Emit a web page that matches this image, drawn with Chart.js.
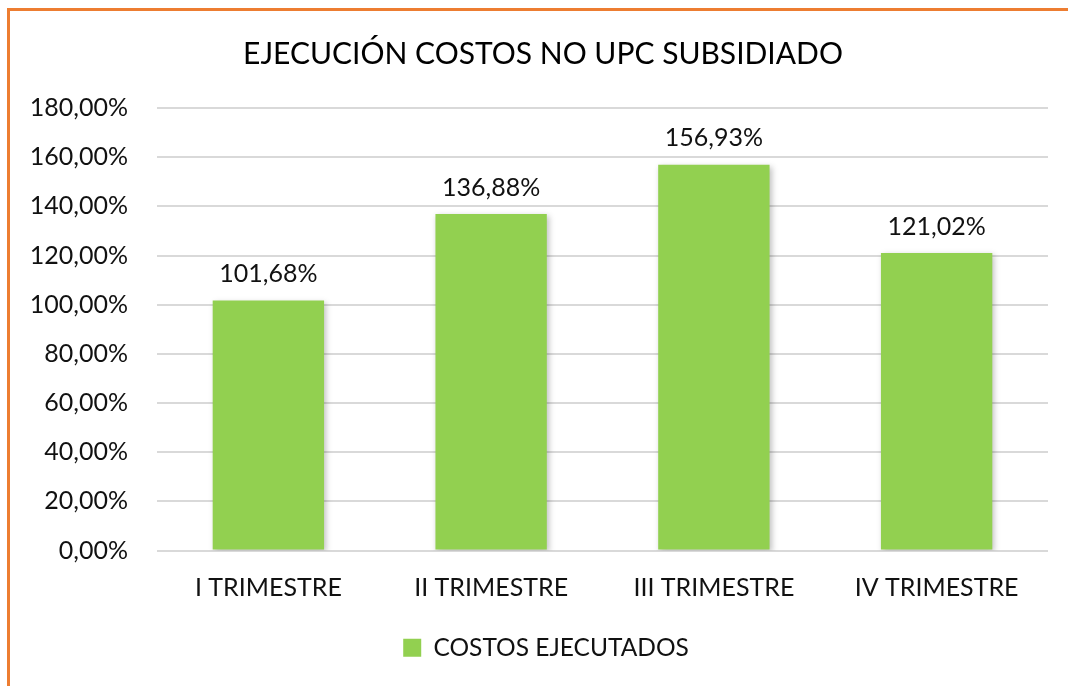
<!DOCTYPE html>
<html>
<head>
<meta charset="utf-8">
<script src="https://cdn.jsdelivr.net/npm/chart.js@4"></script>
<style>
    html, body { margin: 0; padding: 0; background: #fff; }
    #frame {
        position: absolute;
        left: 7px;
        top: 8px;
        width: 1070px;
        height: 690px;
        border-top: 3px solid #ed7d31;
        border-left: 3px solid #ed7d31;
    }
    #wrap { position: absolute; left: 0; top: 0; width: 1068px; height: 686px; }
</style>
</head>
<body>
<div id="frame"></div>
<div id="wrap"><canvas id="myChart"></canvas></div>
<script>
const categories = ["I TRIMESTRE", "II TRIMESTRE", "III TRIMESTRE", "IV TRIMESTRE"];
const costosEjecutados = [101.68, 136.88, 156.93, 121.02];
const yTicks = [0, 20, 40, 60, 80, 100, 120, 140, 160, 180];

const fontFamily = "Lato, 'Open Sans', sans-serif";

function pct(v) {
    return v.toFixed(2).replace(".", ",") + "%";
}

// soft shadow under the bars, like the office chart
const barShadow = {
    id: "barShadow",
    beforeDatasetsDraw(chart) {
        const ctx = chart.ctx;
        ctx.save();
        ctx.shadowColor = "rgba(0,0,0,0.25)";
        ctx.shadowBlur = 6;
        ctx.shadowOffsetX = 2;
        ctx.shadowOffsetY = 2;
    },
    afterDatasetsDraw(chart) {
        chart.ctx.restore();
    }
};

// value labels over each bar
const valueLabels = {
    id: "valueLabels",
    afterDatasetsDraw(chart) {
        const ctx = chart.ctx;
        const meta = chart.getDatasetMeta(0);
        ctx.save();
        ctx.font = "25px " + fontFamily;
        ctx.fillStyle = "#111";
        ctx.textAlign = "center";
        ctx.textBaseline = "bottom";
        meta.data.forEach((bar, i) => {
            ctx.fillText(pct(costosEjecutados[i]), bar.x, bar.y - 14);
        });
        ctx.restore();
    }
};

// title and legend sit a bit right of the canvas centre in the original
const nudgeBoxes = {
    id: "nudgeBoxes",
    afterLayout(chart) {
        if (chart.titleBlock) {
            chart.titleBlock.left += 19;
            chart.titleBlock.right += 19;
        }
        if (chart.legend) {
            chart.legend.left += 22;
            chart.legend.right += 22;
        }
    }
};

const Mychart = document.getElementById("myChart");

new Chart(Mychart, {
    type: "bar",
    data: {
        labels: categories,
        datasets: [
            {
                label: "COSTOS EJECUTADOS",
                data: costosEjecutados,
                backgroundColor: "#92d050",
                categoryPercentage: 1.0,
                barPercentage: 0.5,
            },
        ],
    },
    options: {
        responsive: true,
        maintainAspectRatio: false,
        animation: false,
        layout: {
            padding: { left: 0, right: 20, top: 0, bottom: 16 },
        },
        scales: {
            x: {
                grid: { display: false },
                border: { display: false },
                ticks: {
                    color: "#111",
                    font: { family: fontFamily, size: 25 },
                    padding: 14,
                },
            },
            y: {
                min: 0,
                max: 180,
                afterBuildTicks(scale) {
                    scale.ticks = yTicks.map(v => ({ value: v }));
                },
                afterFit(scale) {
                    scale.width = 157;
                },
                grid: { color: "#d9d9d9", lineWidth: 2, drawTicks: false },
                border: { display: false },
                ticks: {
                    color: "#111",
                    font: { family: fontFamily, size: 25 },
                    padding: 29,
                    callback: v => pct(v),
                },
            },
        },
        plugins: {
            title: {
                display: true,
                text: "EJECUCIÓN COSTOS NO UPC SUBSIDIADO",
                color: "#000",
                font: { family: fontFamily, size: 30, weight: "normal" },
                padding: { top: 36, bottom: 36 },
            },
            legend: {
                display: true,
                position: "bottom",
                labels: {
                    color: "#111",
                    font: { family: fontFamily, size: 24.5 },
                    boxWidth: 18,
                    boxHeight: 18,
                    padding: 19,
                },
            },
            tooltip: { enabled: false },
        },
    },
    plugins: [barShadow, valueLabels, nudgeBoxes],
});
</script>
</body>
</html>
